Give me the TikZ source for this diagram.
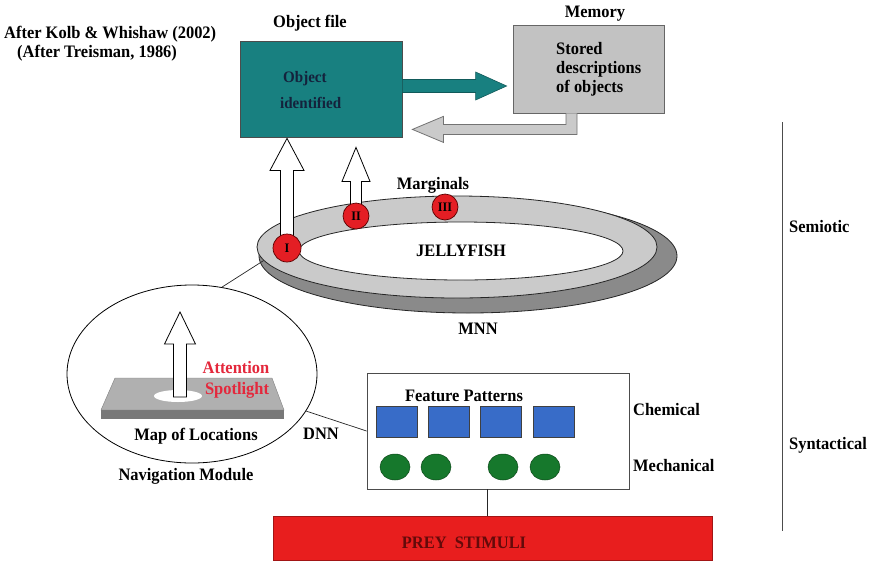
\documentclass[tikz,border=0pt]{standalone}
\usepackage{fontspec}
\setmainfont{Liberation Serif}[FakeStretch=0.94]
\usetikzlibrary{shapes.geometric,calc}

\definecolor{tealbox}{RGB}{24,128,128}
\definecolor{tealtext}{RGB}{20,34,60}
\definecolor{memgray}{RGB}{194,194,194}
\definecolor{ringlight}{RGB}{202,202,202}
\definecolor{ringdark}{RGB}{138,138,138}
\definecolor{markred}{RGB}{228,30,36}
\definecolor{featblue}{RGB}{56,108,200}
\definecolor{featgreen}{RGB}{22,120,44}
\definecolor{preyred}{RGB}{232,30,30}
\definecolor{preyink}{RGB}{100,10,10}
\definecolor{spotred}{RGB}{228,40,60}
\definecolor{plategray}{RGB}{176,176,176}
\definecolor{plateedge}{RGB}{120,120,120}

\begin{document}
\begin{tikzpicture}[x=1pt,y=-1pt,
  every node/.style={font=\fontsize{17.5}{20}\selectfont\bfseries, inner sep=0pt},
  objbox/.style={draw=black!70, line width=0.8pt, fill=tealbox,
    minimum width=162pt, minimum height=96pt},
  membox/.style={draw=black!60, line width=0.8pt, fill=memgray,
    minimum width=151pt, minimum height=88pt},
  tealarrow/.style={fill=tealbox, draw=tealbox!70!black, line width=0.6pt},
  backarrow/.style={fill=ringlight, draw=black!55, line width=0.8pt},
  hollowarrow/.style={fill=white, draw=black, line width=0.8pt},
  marker/.style={circle, fill=markred, draw=red!35!black, line width=0.7pt,
    minimum size=#1, font=\fontsize{13}{13}\selectfont\bfseries},
  ringshape/.style={ellipse, draw=black!85, line width=0.8pt},
  featbox/.style={draw=black!70, line width=0.8pt, minimum width=262pt, minimum height=116pt},
  bluesq/.style={draw=black!75, line width=0.6pt, fill=featblue,
    minimum width=41pt, minimum height=31pt},
  greendot/.style={ellipse, draw=featgreen!60!black, line width=0.5pt, fill=featgreen,
    minimum width=30pt, minimum height=26pt},
  preybox/.style={fill=preyred, draw=preyred!70!black, line width=0.6pt,
    minimum width=439pt, minimum height=44pt},
  link/.style={draw=black!85, line width=0.7pt}
]
% canvas
\fill[white] (0,0) rectangle (874,560);
\useasboundingbox (0,0) rectangle (874,560);

% credits
\node[anchor=west] (credit1) at (4,34) {After Kolb \& Whishaw (2002)};
\node[anchor=west] (credit2) at (17,53) {(After Treisman, 1986)};

% object file and memory
\node (objlbl) at (310,23) {Object file};
\node[objbox] (obj) at (321,89) {};
\node[anchor=west, text=tealtext, font=\fontsize{16}{18}\selectfont\bfseries] (objt1) at (283,79) {Object};
\node[anchor=west, text=tealtext, font=\fontsize{16}{18}\selectfont\bfseries] (objt2) at (280,103) {identified};

\node (memlbl) at (595,14) {Memory};
\node[membox] (mem) at (588.5,69) {};
\node[anchor=west, align=left, font=\fontsize{17.5}{19}\selectfont\bfseries] (memtxt) at (556,69) {Stored\\descriptions\\of objects};

% forward arrow: object file -> memory
\coordinate (ta) at ($(obj.east)+(0,-3)$);
\coordinate (tt) at ($(ta -| mem.west)+(-6,0)$);
\draw[tealarrow] ($(ta)+(0,-6.5)$) -- ($(tt)+(-31,-6.5)$) -- ($(tt)+(-31,-14)$) -- (tt)
  -- ($(tt)+(-31,14)$) -- ($(tt)+(-31,6.5)$) -- ($(ta)+(0,6.5)$) -- cycle;

% return arrow: memory -> object file
\coordinate (rs) at ($(mem.south)+(-17,0)$);
\coordinate (rt) at ($(obj.east |- rs)+(10,16)$);
\draw[backarrow] ($(rs)+(-5.5,0)$) -- ($(rs)+(-5.5,11)$) -- ($(rt)+(31,-5)$) -- ($(rt)+(31,-13)$)
  -- (rt) -- ($(rt)+(31,13)$) -- ($(rt)+(31,5)$) -- ($(rs)+(5.5,21)$) -- ($(rs)+(5.5,0)$);

% jellyfish ring (MNN)
\node[ringshape, fill=ringdark, minimum width=418pt, minimum height=114pt] (ringback) at (468,256) {};
\node[ringshape, fill=ringlight, minimum width=400pt, minimum height=102pt] (ring) at (457,247) {};
\node[ringshape, fill=white, minimum width=324pt, minimum height=58pt] (jelly) at (461,251) {JELLYFISH};
\node (mnn) at (478,329) {MNN};
\node (marg) at (433,185) {Marginals};

% marginal sites
\coordinate (c1) at (287,248);
\coordinate (c2) at (356,216);
\coordinate (c3) at (445,207);

% hollow arrows up to the object file
\coordinate (t1) at ($(c1 |- obj.south)+(0,1)$);
\draw[hollowarrow] ($(c1)+(-6.5,0)$) -- ($(t1)+(-6.5,32)$) -- ($(t1)+(-17,32)$) -- (t1)
  -- ($(t1)+(17,32)$) -- ($(t1)+(6.5,32)$) -- ($(c1)+(6.5,0)$);
\coordinate (t2) at ($(c2 |- obj.south)+(0,10)$);
\draw[hollowarrow] ($(c2)+(-5.5,0)$) -- ($(t2)+(-5.5,34)$) -- ($(t2)+(-14,34)$) -- (t2)
  -- ($(t2)+(14,34)$) -- ($(t2)+(5.5,34)$) -- ($(c2)+(5.5,0)$);

\node[marker=28pt] (m1) at (c1) {I};
\node[marker=26pt] (m2) at (c2) {II};
\node[marker=26pt] (m3) at (c3) {III};

% navigation module
\node[ellipse, draw=black, line width=0.8pt, minimum width=250pt, minimum height=178pt] (nav) at (192,374) {};
\draw[link] (nav.71) -- (ring.184);

\fill[plategray] (115,378) -- (272,378) -- (284,410) -- (101,410) -- cycle;
\fill[plateedge] (101,410) rectangle (284,419);
\draw[black!50, line width=0.4pt] (115,378) -- (272,378) -- (284,410) -- (101,410) -- cycle;
\node[ellipse, fill=white, minimum width=48pt, minimum height=12pt] (spot) at (178,396) {};
\coordinate (t3) at ($(spot)+(2,-84)$);
\draw[hollowarrow] ($(spot)+(-4.5,1)$) -- ($(t3)+(-6.5,32)$) -- ($(t3)+(-15.5,32)$) -- (t3)
  -- ($(t3)+(15.5,32)$) -- ($(t3)+(6.5,32)$) -- ($(spot)+(8.5,1)$) -- cycle;

\node[text=spotred] (att1) at (236,368) {Attention};
\node[text=spotred] (att2) at (237,390) {Spotlight};
\node (maplbl) at (196,436) {Map of Locations};
\node (navlbl) at (186,476) {Navigation Module};
\node (dnn) at (321,434) {DNN};

% feature patterns (DNN)
\node[featbox] (feat) at (498,431) {};
\draw[link] (nav.-18) -- (feat.west);
\node (featlbl) at (464,396) {Feature Patterns};
\node[bluesq] (sq1) at (396.5,422) {};
\node[bluesq] (sq2) at (449,422) {};
\node[bluesq] (sq3) at (501,422) {};
\node[bluesq] (sq4) at (553.5,422) {};
\node[greendot] (gd1) at (395,467) {};
\node[greendot] (gd2) at (436,467) {};
\node[greendot] (gd3) at (503,467) {};
\node[greendot] (gd4) at (545,467) {};
\node[anchor=west] (chem) at (633,410) {Chemical};
\node[anchor=west] (mech) at (633,466) {Mechanical};

% prey stimuli
\node[preybox] (prey) at (492.5,538) {};
\node[text=preyink] (preylbl) at (464,543) {PREY\ \ STIMULI};
\coordinate (fb) at ($(feat.south)+(-11,0)$);
\draw[link] (fb) -- (fb |- prey.north);

% level axis
\coordinate (axtop) at (782,122);
\coordinate (axbot) at (782,531);
\draw[black!70, line width=0.8pt] (axtop) -- (axbot);
\node[anchor=west] (semio) at (789,227) {Semiotic};
\node[anchor=west] (synt) at (789,445) {Syntactical};
\end{tikzpicture}
\end{document}
